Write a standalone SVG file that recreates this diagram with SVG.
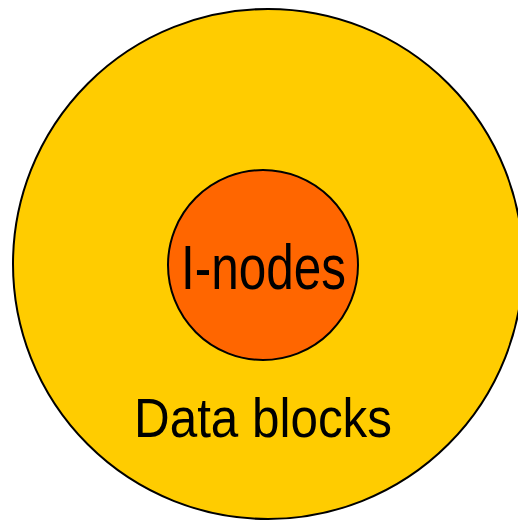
<svg xmlns="http://www.w3.org/2000/svg" width="518" height="521" viewBox="0 0 518 521">
  <style>
    .ring { stroke: #000; stroke-width: 2; }
    .label { font-family: "Liberation Sans", Arial, sans-serif; fill: #000; }
  </style>
  <rect width="518" height="521" fill="#fff"/>
  <g id="data-blocks">
    <circle class="ring" cx="268" cy="264" r="255" fill="#ffcc00"/>
    <text class="label" x="134" y="437" font-size="56" textLength="258" lengthAdjust="spacingAndGlyphs">Data blocks</text>
  </g>
  <g id="i-nodes">
    <circle class="ring" cx="263" cy="265" r="95" fill="#ff6600"/>
    <text class="label" x="181" y="288.5" font-size="63" textLength="165" lengthAdjust="spacingAndGlyphs">I-nodes</text>
  </g>
</svg>
